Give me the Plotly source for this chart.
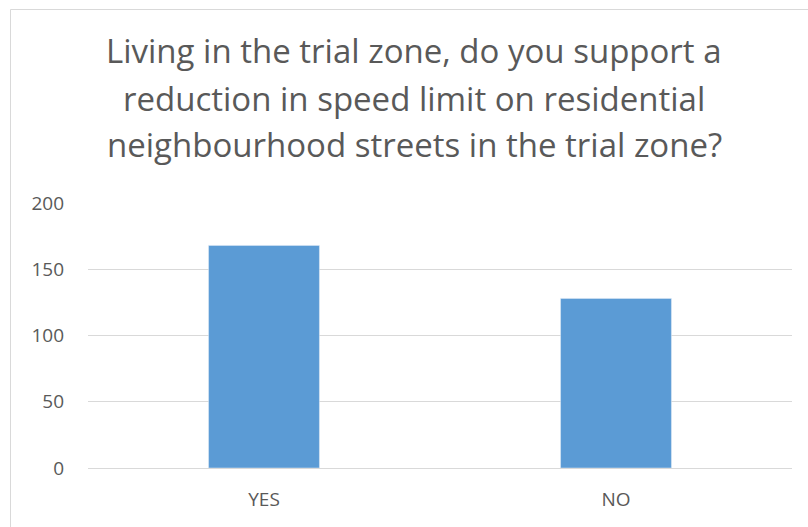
import plotly.graph_objects as go

categories = ["YES", "NO"]
values = [168, 128]
y_ticks = [0, 50, 100, 150, 200]
title_lines = [
    "Living in the trial zone, do you support a",
    "reduction in speed limit on residential",
    "neighbourhood streets in the trial zone?",
]

W, H = 808, 527
L, R, T, B = 88, 16, 203, 59
pw, ph = W - L - R, H - T - B

def px_x(x):
    return (x - L) / pw

def px_y(y):
    return (H - B - y) / ph

fig = go.Figure(go.Bar(x=categories, y=values, marker_color="#5b9bd5", width=0.315))

font_family = "Open Sans"
annotations = []
for line, yc in zip(title_lines, [51, 98, 144]):
    annotations.append(dict(text=line, xref="paper", yref="paper", x=px_x(414), y=px_y(yc),
                            xanchor="center", yanchor="middle", showarrow=False,
                            font=dict(family=font_family, size=33, color="#595959")))

fig.update_layout(
    width=W, height=H,
    margin=dict(l=L, r=R, t=T, b=B),
    paper_bgcolor="white", plot_bgcolor="white",
    showlegend=False,
    annotations=annotations,
    shapes=[dict(type="rect", xref="paper", yref="paper",
                 x0=px_x(10.5), x1=px_x(830), y0=px_y(9.5), y1=px_y(560),
                 line=dict(color="#d9d9d9", width=1), fillcolor="rgba(0,0,0,0)", layer="below")],
    xaxis=dict(showgrid=False, showline=False, ticks="", ticklabelstandoff=18,
               tickfont=dict(family=font_family, size=19, color="#595959")),
    yaxis=dict(range=[0, 200], tickvals=y_ticks, showgrid=True, gridcolor="#d9d9d9", gridwidth=1,
               zeroline=True, zerolinecolor="#d9d9d9", zerolinewidth=1, showline=False, ticks="",
               ticklabelstandoff=23,
               tickfont=dict(family=font_family, size=19, color="#595959")),
)

fig.write_html("out.html", config={"displayModeBar": False},
               post_script="document.body.style.margin='0';")
